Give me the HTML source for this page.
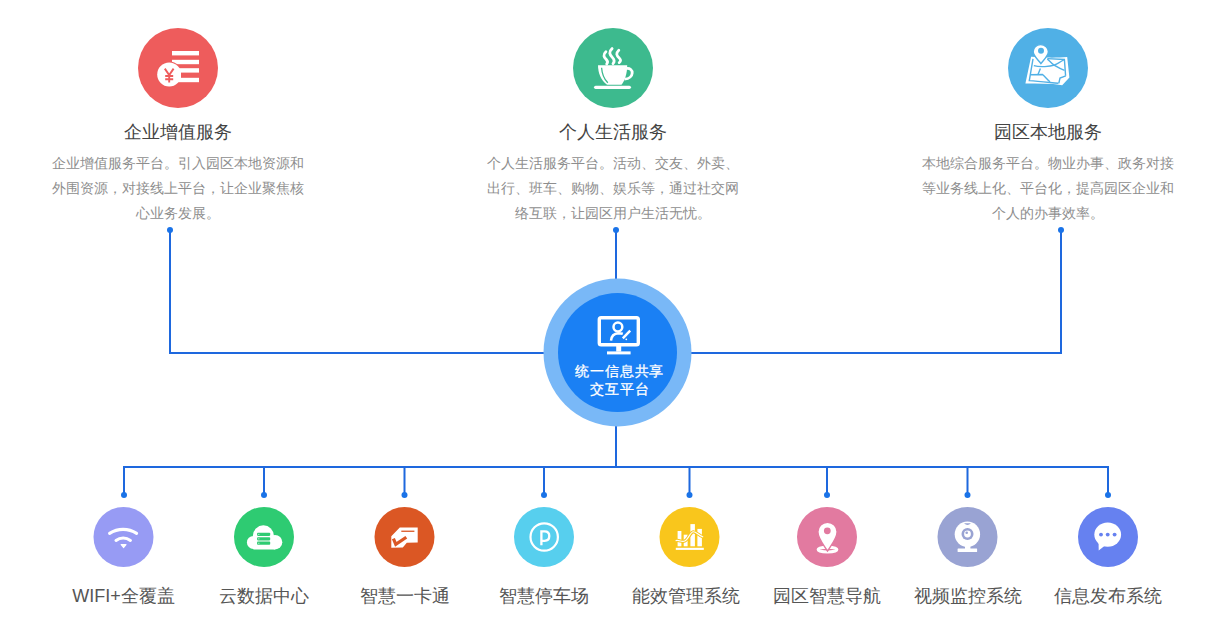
<!DOCTYPE html>
<html><head><meta charset="utf-8">
<style>
html,body{margin:0;padding:0;background:#fff;}
body{width:1228px;height:625px;position:relative;overflow:hidden;font-family:"Liberation Sans",sans-serif;}
svg.bg{position:absolute;left:0;top:0;}
.t{position:absolute;white-space:nowrap;text-align:center;}
.title{font-size:18px;color:#444;line-height:20px;width:300px;}
.desc{font-size:14px;color:#8e8e8e;line-height:25px;width:260px;}
.lab{font-size:18px;color:#555;line-height:20px;width:160px;}
.ctr{font-weight:400;-webkit-text-stroke:0.3px #fff;font-size:14px;letter-spacing:0.8px;padding-left:0.8px;color:#fff;line-height:18px;width:140px;}
</style></head>
<body>
<svg class="bg" width="1228" height="625" viewBox="0 0 1228 625">
  <!-- connector lines -->
  <g fill="#1e68de">
    <rect x="169" y="230" width="2" height="124"/>
    <rect x="169" y="352" width="376" height="2"/>
    <rect x="1060" y="230" width="2" height="124"/>
    <rect x="690" y="352" width="372" height="2"/>
    <rect x="615" y="230" width="2" height="50"/>
    <rect x="615" y="425" width="2" height="43"/>
    <rect x="123" y="466" width="986" height="2"/>
    <rect x="123" y="466" width="2" height="29"/>
    <rect x="263" y="466" width="2" height="29"/>
    <rect x="403.5" y="466" width="2" height="29"/>
    <rect x="543" y="466" width="2" height="29"/>
    <rect x="688.5" y="466" width="2" height="29"/>
    <rect x="826" y="466" width="2" height="29"/>
    <rect x="966.5" y="466" width="2" height="29"/>
    <rect x="1107" y="466" width="2" height="29"/>
  </g>
  <g fill="#1a73e8">
    <circle cx="170" cy="230" r="3"/>
    <circle cx="616" cy="230" r="3"/>
    <circle cx="1061" cy="230" r="3"/>
    <circle cx="124" cy="495" r="3"/>
    <circle cx="264" cy="495" r="3"/>
    <circle cx="404.5" cy="495" r="3"/>
    <circle cx="544" cy="495" r="3"/>
    <circle cx="689.5" cy="495" r="3"/>
    <circle cx="827" cy="495" r="3"/>
    <circle cx="967.5" cy="495" r="3"/>
    <circle cx="1108" cy="495" r="3"/>
  </g>
  <!-- center -->
  <circle cx="617.5" cy="352.5" r="74" fill="#79b8f7"/>
  <circle cx="617.5" cy="352.6" r="59.5" fill="#1a80f4"/>

  <!-- top icons -->
  <circle cx="178" cy="68" r="40" fill="#ee5c5c"/>
  <circle cx="613" cy="68" r="40" fill="#3dba8e"/>
  <circle cx="1048" cy="68" r="40" fill="#50b0e6"/>

  <!-- bottom icons -->
  <circle cx="123.5" cy="537" r="30" fill="#979bf4"/>
  <circle cx="264" cy="537" r="30" fill="#2ecb72"/>
  <circle cx="404.5" cy="537" r="30" fill="#db5724"/>
  <circle cx="544" cy="537" r="30" fill="#57cfee"/>
  <circle cx="689.5" cy="537" r="30" fill="#f9c61c"/>
  <circle cx="827" cy="537" r="30" fill="#e27aa0"/>
  <circle cx="967.5" cy="537" r="30" fill="#99a3d3"/>
  <circle cx="1108" cy="537" r="30" fill="#6681f0"/>

  <!-- red coin icon -->
  <g>
    <rect x="172" y="51" width="27" height="4.4" fill="#fff"/>
    <rect x="172" y="59.8" width="27" height="4.4" fill="#fff"/>
    <circle cx="169.2" cy="74.6" r="13.2" fill="#ee5c5c"/>
    <circle cx="169.2" cy="74.6" r="12" fill="#fff"/>
    <rect x="174" y="68.2" width="25" height="14" fill="#fff"/>
    <rect x="181" y="72.6" width="18" height="5.2" fill="#ee5c5c"/>
    <path d="M164.8 68.6 L169.2 75 L173.6 68.6 M169.2 75 V82.6 M165.2 76 H173.2 M165.2 79.2 H173.2" stroke="#ee5c5c" stroke-width="1.9" fill="none"/>
  </g>
  <!-- coffee icon -->
  <g fill="#fff">
    <rect x="594" y="85.7" width="37" height="3.3" rx="1.65"/>
    <path d="M598,65.3 L627.2,65.3 C627.2,73 625,80.5 621.5,84.8 L607,84.8 C601,80.5 598,73 598,65.3 Z"/>
    <path d="M626,68.6 C634.5,67 634.5,78.5 624.5,79.2" stroke="#fff" stroke-width="2.8" fill="none"/>
    <path d="M601.6,67.8 C602,74.5 604.5,79.5 607.8,82.8" stroke="#3dba8e" stroke-width="1.3" fill="none"/>
    <g stroke="#fff" stroke-width="2.8" fill="none" stroke-linecap="round">
      <path d="M605.9,51.8 C602.5,55 604,57 606.3,59.5 C608.3,61.6 607.6,63 606.7,64"/>
      <path d="M612.1,48.6 C608.3,52 609.6,54.5 612.5,57.6 C614.8,60 614.2,62.2 613,63.6"/>
      <path d="M618.8,50.2 C615.5,53.4 616.6,55.6 619.2,58 C621.4,60 620.6,61.6 619.2,62.6"/>
    </g>
  </g>
  <!-- map icon -->
  <g>
    <path d="M1031.1,56.8 L1047,57.6 C1054,58 1061,57.4 1067.2,57.1 L1069.4,77.4 L1062.2,85.2 C1050,83.2 1038,83.8 1025.4,83.6 Z" fill="#fff"/>
    <g stroke="#50b0e6" stroke-width="1.4" fill="none">
      <path d="M1033,58.8 L1029.3,80.6 C1039,81.2 1049,82.4 1058.4,83.3"/>
      <path d="M1047.4,58.6 L1064.4,59.5 L1065.6,75.8"/>
      <path d="M1033.8,65.6 C1040,67.5 1050,66.5 1054.5,65 C1058,63.5 1062,61 1064.4,59.5"/>
      <path d="M1047.4,58.9 C1050,61.5 1052,63.8 1054.5,65.4 C1057.5,67.2 1061,69 1064.5,70.3"/>
      <path d="M1040.4,68.6 L1038.1,74.3"/>
      <path d="M1030.6,74.8 L1042.5,74.5 C1045,76.5 1047,79.5 1050,81.8"/>
      <path d="M1065.8,75.8 L1060,78 L1058.8,83.4"/>
    </g>
    <path d="M1040.6,44.6 C1036.2,44.6 1033.2,48 1033.2,51.6 C1033.2,56.2 1038.5,60.2 1040.9,63.6 C1043.4,60.2 1048.4,56.2 1048.4,51.6 C1048.4,48 1045,44.6 1040.6,44.6 Z" fill="#fff" stroke="#50b0e6" stroke-width="1.4"/>
    <circle cx="1041" cy="50.8" r="3" fill="#50b0e6"/>
  </g>
  <!-- monitor icon -->
  <g fill="none" stroke="#fff">
    <rect x="599.3" y="317.8" width="39" height="27" rx="1.8" stroke-width="3.4"/>
    <circle cx="617.9" cy="327" r="4.4" stroke-width="2.5"/>
    <path d="M611,340.6 C611.4,336 614.5,333.4 618.5,333.2 C620,333.2 621.5,333.4 622.8,333.8" stroke-width="2.5"/>
    <path d="M630.2,330.7 L622.8,338.3" stroke-width="2.5"/>
  </g>
  <circle cx="626.3" cy="339.3" r="0.9" fill="#fff"/>
  <g fill="#fff">
    <rect x="616.2" y="346" width="5" height="5.6"/>
    <rect x="607" y="351.4" width="23.6" height="3"/>
  </g>
  <!-- wifi -->
  <g stroke="#fff" stroke-width="3.1" fill="none" stroke-linecap="round">
    <path d="M109.6,533.4 A24.8,24.8 0 0 1 136.6,533.4"/>
    <path d="M116,540.4 A11.8,11.8 0 0 1 130.4,540.4"/>
  </g>
  <path d="M121.3,544.6 H125.9 L123.6,547.4 Z" fill="#fff" stroke="#fff" stroke-width="1.4" stroke-linejoin="round"/>
  <!-- cloud -->
  <g>
    <g fill="#fff">
      <circle cx="263.4" cy="535.8" r="10.5"/>
      <circle cx="275" cy="542.2" r="7.3"/>
      <circle cx="253.4" cy="542.4" r="6.5"/>
      <rect x="253.4" y="540" width="21.6" height="9.5"/>
    </g>
    <g fill="#2ecb72">
      <rect x="257.1" y="532.7" width="13.1" height="3.2" rx="0.8"/>
      <rect x="257.1" y="537.2" width="13.1" height="3.2" rx="0.8"/>
      <rect x="257.1" y="541.6" width="13.1" height="3.2" rx="0.8"/>
    </g>
    <g fill="#fff" opacity="0.85">
      <rect x="258.2" y="533.9" width="1.2" height="0.9"/>
      <rect x="258.2" y="538.4" width="1.2" height="0.9"/>
      <rect x="258.2" y="542.8" width="1.2" height="0.9"/>
    </g>
  </g>
  <!-- card -->
  <g>
    <path d="M391.3,536.2 L399.8,527.4 L417.7,527.4 L417.7,542.4 L406.8,542.8 L402.8,547.4 L391.3,547.8 Z" fill="#fff"/>
    <rect x="401.3" y="530.6" width="13.1" height="1.3" fill="#db5724"/>
    <path d="M393.4,538.6 L395.8,544.4 L406.3,537.2" stroke="#db5724" stroke-width="3.2" fill="none" stroke-linejoin="miter"/>
  </g>
  <!-- parking -->
  <g fill="none" stroke="#fff">
    <circle cx="544.2" cy="537" r="13.7" stroke-width="2.2"/>
    <path d="M541.4,545.2 V531.3 H544.6 C547.9,531.3 549.3,533.5 549.3,536.1 C549.3,538.7 547.9,540.8 544.6,540.8 H541.4" stroke-width="2.3"/>
  </g>
  <!-- energy -->
  <g fill="#fff">
    <rect x="675.8" y="547.8" width="28" height="2.1"/>
    <rect x="677.6" y="531" width="3.8" height="15.3"/>
    <rect x="683.7" y="534.7" width="3.9" height="11.6"/>
    <rect x="690.4" y="524.1" width="4.5" height="22.2"/>
    <rect x="697.4" y="528.9" width="4.5" height="17.4"/>
    <path d="M675.6,540.6 C679.5,539.6 681.5,542.4 684.8,541 C688,539.6 690.5,532 693.2,531.8 C696.2,531.6 698.8,535.6 703.2,537" stroke="#f9c61c" stroke-width="3.2" fill="none"/>
    <path d="M675.6,540.6 C679.5,539.6 681.5,542.4 684.8,541 C688,539.6 690.5,532 693.2,531.8 C696.2,531.6 698.8,535.6 703.2,537" stroke="#fff" stroke-width="1.1" fill="none"/>
  </g>
  <!-- nav pin -->
  <g>
    <ellipse cx="827.5" cy="549.6" rx="9.4" ry="2.4" fill="none" stroke="#fff" stroke-width="3"/>
    <path d="M827.5,551 C824,545.5 817.9,538.5 817.9,531.8 A9.6,9.6 0 0 1 837.1,531.8 C837.1,538.5 831,545.5 827.5,551 Z" fill="#fff" stroke="#e27aa0" stroke-width="1.4"/>
    <circle cx="827.3" cy="530.8" r="3.4" fill="#e27aa0"/>
  </g>
  <!-- webcam -->
  <g>
    <rect x="965" y="545" width="5.4" height="4" fill="#fff"/>
    <rect x="957.6" y="548.4" width="19.5" height="3.5" rx="0.5" fill="#fff"/>
    <ellipse cx="967.4" cy="534.3" rx="12.7" ry="12.8" fill="#fff"/>
    <path d="M964,523.2 L971,523.2 Q967.5,526.8 964,523.2 Z" fill="#99a3d3"/>
    <circle cx="967.5" cy="534" r="6" fill="#99a3d3"/>
    <circle cx="967.5" cy="534" r="3.4" fill="#fff"/>
    <circle cx="966.7" cy="532.7" r="1.3" fill="#99a3d3"/>
  </g>
  <!-- chat -->
  <g>
    <ellipse cx="1107.7" cy="534.6" rx="13.4" ry="12.2" fill="#fff"/>
    <path d="M1098.6,542 L1098.7,550.6 L1105,545.5 Z" fill="#fff"/>
    <g fill="#6681f0">
      <circle cx="1101" cy="534.6" r="1.95"/>
      <circle cx="1107.7" cy="534.6" r="1.95"/>
      <circle cx="1114.6" cy="534.6" r="1.95"/>
    </g>
  </g>
</svg>

<div class="t title" style="left:28px;top:122px;">企业增值服务</div>
<div class="t title" style="left:463px;top:122px;">个人生活服务</div>
<div class="t title" style="left:898px;top:122px;">园区本地服务</div>

<div class="t desc" style="left:48px;top:151px;">企业增值服务平台。引入园区本地资源和<br>外围资源，对接线上平台，让企业聚焦核<br>心业务发展。</div>
<div class="t desc" style="left:483px;top:151px;">个人生活服务平台。活动、交友、外卖、<br>出行、班车、购物、娱乐等，通过社交网<br>络互联，让园区用户生活无忧。</div>
<div class="t desc" style="left:918px;top:151px;">本地综合服务平台。物业办事、政务对接<br>等业务线上化、平台化，提高园区企业和<br>个人的办事效率。</div>

<div class="t ctr" style="left:549px;top:362px;">统一信息共享<br>交互平台</div>

<div class="t lab" style="left:43.5px;top:586px;">WIFI+全覆盖</div>
<div class="t lab" style="left:184px;top:586px;">云数据中心</div>
<div class="t lab" style="left:324.5px;top:586px;">智慧一卡通</div>
<div class="t lab" style="left:464px;top:586px;">智慧停车场</div>
<div class="t lab" style="left:606px;top:586px;">能效管理系统</div>
<div class="t lab" style="left:747px;top:586px;">园区智慧导航</div>
<div class="t lab" style="left:887.5px;top:586px;">视频监控系统</div>
<div class="t lab" style="left:1028px;top:586px;">信息发布系统</div>
</body></html>
